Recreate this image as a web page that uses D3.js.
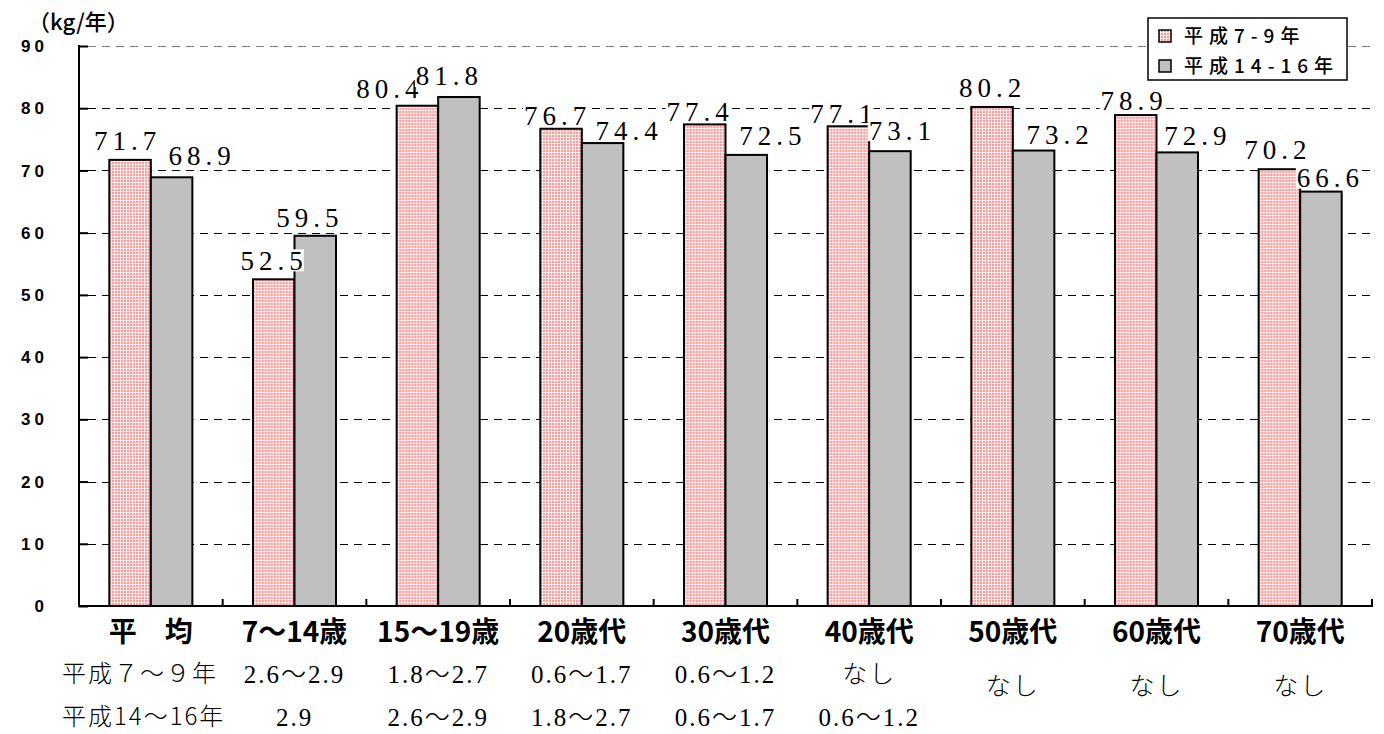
<!DOCTYPE html>
<html>
<head>
<meta charset="utf-8">
<script src="https://cdn.jsdelivr.net/npm/d3@7"></script>
<style>
  html, body { margin: 0; padding: 0; background: #fff; }
  svg { display: block; }
</style>
</head>
<body>
<svg id="chart" width="1384" height="734"></svg>
<script>
// Age groups and per-capita amounts (kg/年) for two survey periods
const categories = ["平　均", "7～14歳", "15～19歳", "20歳代", "30歳代", "40歳代", "50歳代", "60歳代", "70歳代"];
const seriesNames = ["平成7-9年", "平成14-16年"];
const valuesH7 = [71.7, 52.5, 80.4, 76.7, 77.4, 77.1, 80.2, 78.9, 70.2];
const valuesH14 = [68.9, 59.5, 81.8, 74.4, 72.5, 73.1, 73.2, 72.9, 66.6];
const yTicks = [0, 10, 20, 30, 40, 50, 60, 70, 80, 90];

// Table rows under the axis
const tableRowLabels = ["平成７～９年", "平成14～16年"];
const tableH7 = ["", "2.6～2.9", "1.8～2.7", "0.6～1.7", "0.6～1.2", "なし", "なし", "なし", "なし"];
const tableH14 = ["", "2.9", "2.6～2.9", "1.8～2.7", "0.6～1.7", "0.6～1.2", "", "", ""];

// Hand placement of the value labels (px from bar centre / bar top)
const labelDxH7 = [-5, -2, -30, -6, -7, -7, -2, -4, -4];
const labelDyH7 = [-19, -19, -17, -13, -13, -13, -19, -15, -20];
const labelDxH14 = [28, -8, -12, 24, 24, 10, 24, 18, 7];
const labelDyH14 = [-22, -18, -21, -13, -19, -21, -16, -17, -14];

const svg = d3.select("#chart");
const plotLeft = 79, plotRight = 1372, plotTop = 46, plotBottom = 606;

const x = d3.scaleBand().domain(categories).range([plotLeft, plotRight]).padding(0);
const bw = x.bandwidth();
const xs = d3.scaleBand().domain(seriesNames).range([bw * 0.211, bw * 0.789]).padding(0);
const y = d3.scaleLinear().domain([0, 90]).range([plotBottom, plotTop]);

// Pink checked fill
const defs = svg.append("defs");
const pat = defs.append("pattern").attr("id", "pinkCheck")
  .attr("patternUnits", "userSpaceOnUse").attr("width", 3).attr("height", 3);
pat.append("rect").attr("width", 3).attr("height", 3).attr("fill", "#ffeaea");
pat.append("rect").attr("width", 2).attr("height", 2).attr("fill", "#ff9a9a");

// Dashed gridlines
const grid = svg.append("g");
grid.selectAll("line").data(yTicks.filter(d => d > 0)).join("line")
  .attr("x1", plotLeft + 9).attr("x2", plotRight)
  .attr("y1", d => Math.round(y(d)) + 0.5).attr("y2", d => Math.round(y(d)) + 0.5)
  .attr("stroke", d => d === 90 ? "#808080" : "#000")
  .attr("stroke-width", 1).attr("stroke-dasharray", "8,6");

// Bars
const groups = svg.append("g").selectAll("g").data(categories).join("g")
  .attr("transform", d => `translate(${x(d)},0)`);

groups.append("rect")
  .attr("x", xs(seriesNames[0]))
  .attr("width", xs.bandwidth())
  .attr("y", (d, i) => y(valuesH7[i]))
  .attr("height", (d, i) => y(0) - y(valuesH7[i]))
  .attr("fill", "url(#pinkCheck)").attr("stroke", "#000").attr("stroke-width", 2);

groups.append("rect")
  .attr("x", xs(seriesNames[1]))
  .attr("width", xs.bandwidth())
  .attr("y", (d, i) => y(valuesH14[i]))
  .attr("height", (d, i) => y(0) - y(valuesH14[i]))
  .attr("fill", "#c0c0c0").attr("stroke", "#000").attr("stroke-width", 2);

// Axes
const yAxis = d3.axisLeft(y).tickValues(yTicks).tickSize(-9).tickFormat("");
const gy = svg.append("g").attr("transform", `translate(${plotLeft},0)`).call(yAxis);
gy.select(".domain").remove();
gy.selectAll(".tick line").attr("stroke", "#000").attr("stroke-width", 2);

svg.append("line").attr("x1", plotLeft).attr("x2", plotLeft).attr("y1", plotTop - 1).attr("y2", plotBottom + 1)
  .attr("stroke", "#000").attr("stroke-width", 2);
svg.append("line").attr("x1", plotLeft - 1).attr("x2", plotRight + 1).attr("y1", plotBottom).attr("y2", plotBottom)
  .attr("stroke", "#000").attr("stroke-width", 2);

// Category boundary ticks along the baseline
const bounds = categories.map(c => x(c)).concat([plotRight]);
svg.append("g").selectAll("line").data(bounds).join("line")
  .attr("x1", d => d).attr("x2", d => d).attr("y1", plotBottom).attr("y2", plotBottom - 7)
  .attr("stroke", "#000").attr("stroke-width", 2);

// Y tick labels
svg.append("g").selectAll("text").data(yTicks).join("text")
  .attr("x", 48).attr("y", d => y(d)).attr("dy", "0.36em")
  .attr("text-anchor", "end")
  .style("font-family", "'Liberation Sans', Arial, sans-serif")
  .style("font-size", "17px").style("font-weight", "bold").style("letter-spacing", "4px")
  .text(d => d);

// Unit label
svg.append("text").attr("x", 28).attr("y", 30)
  .style("font-family", "'Noto Sans CJK JP', sans-serif").style("font-size", "22px")
  .style("font-weight", "500")
  .text("（kg/年）");

// Value labels with white backing behind the digits
function valueLabel(cx, cy, txt) {
  const g = svg.append("g");
  const t = g.append("text").attr("x", cx + 2.5).attr("y", cy).attr("dy", "0.35em")
    .attr("text-anchor", "middle")
    .style("font-family", "'Liberation Serif', 'DejaVu Serif', serif")
    .style("font-size", "27px").style("letter-spacing", "5px")
    .text(txt);
  const bb = t.node().getBBox();
  g.insert("rect", "text").attr("x", bb.x - 1).attr("y", cy - 11)
    .attr("width", bb.width - 3).attr("height", 22).attr("fill", "#fff");
}
categories.forEach((c, i) => {
  const c7 = x(c) + xs(seriesNames[0]) + xs.bandwidth() / 2;
  const c14 = x(c) + xs(seriesNames[1]) + xs.bandwidth() / 2;
  valueLabel(c7 + labelDxH7[i], y(valuesH7[i]) + labelDyH7[i], valuesH7[i].toFixed(1));
  valueLabel(c14 + labelDxH14[i], y(valuesH14[i]) + labelDyH14[i], valuesH14[i].toFixed(1));
});

// Category labels
svg.append("g").selectAll("text").data(categories).join("text")
  .attr("x", d => x(d) + bw / 2).attr("y", 632).attr("dy", "0.35em")
  .attr("text-anchor", "middle")
  .style("font-family", "'Noto Sans CJK JP', sans-serif").style("font-weight", "bold")
  .style("font-size", "28px")
  .text(d => d);

// Table below the axis
const tableFont = "'Liberation Serif', 'Noto Sans CJK JP', serif";
svg.append("g").selectAll("text").data(tableRowLabels).join("text")
  .attr("x", 62).attr("y", (d, i) => i === 0 ? 674 : 717).attr("dy", "0.35em")
  .style("font-family", "'Noto Sans CJK JP', sans-serif").style("font-size", "24px")
  .style("font-weight", "300").style("letter-spacing", "2px")
  .text(d => d);

function tableCell(i, txt, cy) {
  if (!txt) return;
  svg.append("text").attr("x", x(categories[i]) + bw / 2).attr("y", cy).attr("dy", "0.35em")
    .attr("text-anchor", "middle")
    .style("font-family", tableFont).style("font-size", "25px").style("letter-spacing", "2px")
    .style("font-weight", "300")
    .text(txt);
}
tableH7.forEach((t, i) => {
  // single-row entries sit between the two rows
  const cy = (t && !tableH14[i] && i > 0) ? 686 : 674;
  tableCell(i, t, cy);
});
tableH14.forEach((t, i) => tableCell(i, t, 717));

// Legend
const lg = svg.append("g");
lg.append("rect").attr("x", 1148).attr("y", 18).attr("width", 199).attr("height", 62)
  .attr("fill", "#fff").attr("stroke", "#000").attr("stroke-width", 1.5);
const legendFill = ["url(#pinkCheck)", "#c0c0c0"];
seriesNames.forEach((s, i) => {
  const cy = i === 0 ? 36 : 66;
  lg.append("rect").attr("x", 1159).attr("y", cy - 6).attr("width", 12).attr("height", 12)
    .attr("fill", legendFill[i]).attr("stroke", "#000").attr("stroke-width", 1.5);
  lg.append("text").attr("x", 1184).attr("y", cy).attr("dy", "0.36em")
    .style("font-family", "'Noto Sans CJK JP', sans-serif").style("font-size", "19px")
    .style("font-weight", "500").style("letter-spacing", "6px")
    .text(s);
});
</script>
</body>
</html>
